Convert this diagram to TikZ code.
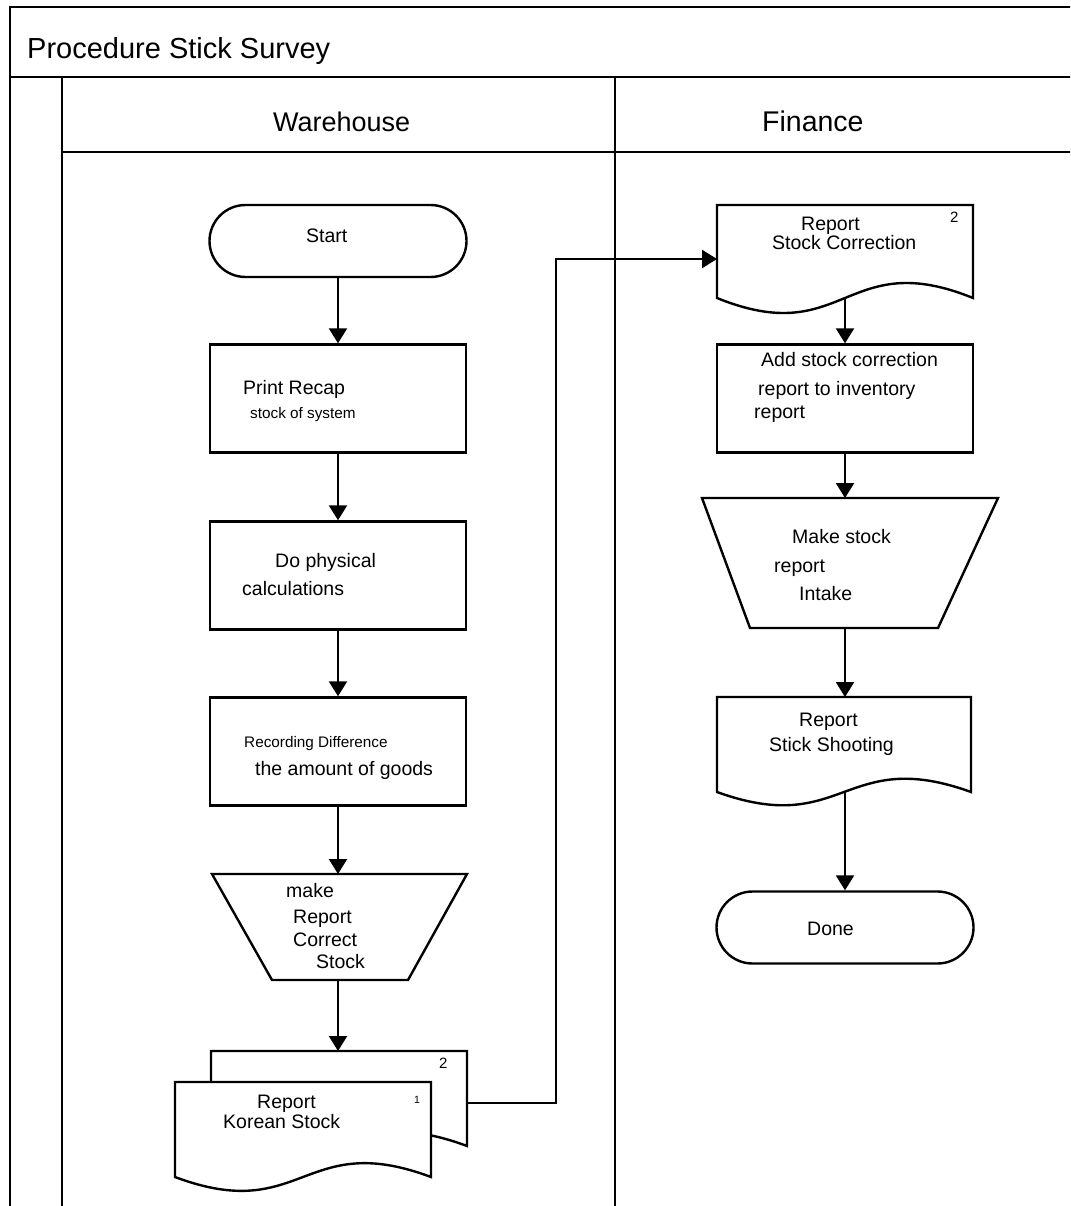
\documentclass[tikz,border=0pt]{standalone}
\usepackage{fontspec}
\setmainfont{Liberation Sans}
\usetikzlibrary{arrows.meta}

\begin{document}
\begin{tikzpicture}[x=1pt,y=-1pt,
  shapeline/.style={draw=black, line width=2.4pt, fill=white},
  laneline/.style={draw=black, line width=2.4pt},
  flow/.style={draw=black, line width=2.4pt, -{Triangle[length=15pt,width=18pt]}},
  procbox/.style={shapeline, minimum width=256pt, minimum height=108pt, inner sep=0pt},
  terminal/.style={shapeline, rounded corners=36pt, minimum width=257pt, minimum height=72pt, inner sep=0pt},
  txt/.style={anchor=base west, inner sep=0pt, font=\fontsize{19.5}{23}\selectfont},
  smalltxt/.style={anchor=base west, inner sep=0pt, font=\fontsize{15.3}{18}\selectfont},
  numtxt/.style={anchor=base west, inner sep=0pt, font=\fontsize{15}{17}\selectfont},
  tinytxt/.style={anchor=base west, inner sep=0pt, font=\fontsize{10.5}{12}\selectfont}
]
\useasboundingbox (0,0) rectangle (1070,1206);
\clip (0,0) rectangle (1070,1206);
\fill[white] (0,0) rectangle (1070,1206);

% pool frame and lanes
\draw[laneline] (10,1215) -- (10,7) -- (1080,7);
\draw[laneline] (10,77) -- (1080,77);
\draw[laneline] (62,77) -- (62,1215);
\draw[laneline] (615,77) -- (615,1215);
\draw[laneline] (62,152) -- (1080,152);

\node[anchor=base west, inner sep=0pt, font=\fontsize{29}{33}\selectfont] (title) at (27,59) {Procedure Stick Survey};
\node[anchor=base west, inner sep=0pt, font=\fontsize{27}{31}\selectfont] (lanewh) at (273,132) {Warehouse};
\node[anchor=base west, inner sep=0pt, font=\fontsize{28.5}{32}\selectfont] (lanefin) at (762,132) {Finance};

% ---------------- Warehouse lane ----------------
\node[terminal] (start) at (338,241) {};
\node[txt] (tstart) at (306,243) {Start};

\node[procbox] (recap) at (338,398.5) {};
\node[txt] (trecap1) at (243,394) {Print Recap};
\node[smalltxt] (trecap2) at (250,418) {stock of system};

\node[procbox] (calc) at (338,575.5) {};
\node[txt] (tcalc1) at (275,567) {Do physical};
\node[txt] (tcalc2) at (242,595) {calculations};

\node[procbox] (diff) at (338,751.5) {};
\node[smalltxt] (tdiff1) at (244,747) {Recording Difference};
\node[txt] (tdiff2) at (255,775) {the amount of goods};

% manual operation: make report
\draw[shapeline] (212,874) -- (467,874) -- (408,980) -- (272,980) -- cycle;
\coordinate (mk-top) at (338,874);
\coordinate (mk-bot) at (338,980);
\node[txt] (tmk1) at (286,897) {make};
\node[txt] (tmk2) at (293,923) {Report};
\node[txt] (tmk3) at (293,946) {Correct};
\node[txt] (tmk4) at (316,968) {Stock};

% two-copy document
\draw[shapeline] (211,1051) -- (467,1051) -- (467,1146)
  .. controls (339,1098) and (339,1194) .. (211,1146) -- cycle;
\draw[shapeline] (175,1082) -- (431,1082) -- (431,1177)
  .. controls (303,1129) and (303,1225) .. (175,1177) -- cycle;
\coordinate (ks-top) at (338,1051);
\coordinate (ks-out) at (467,1103);
\node[numtxt] (tks2) at (439,1068) {2};
\node[tinytxt] (tks1) at (414,1103) {1};
\node[txt] (tks-a) at (257,1108) {Report};
\node[txt] (tks-b) at (223,1128) {Korean Stock};

% ---------------- Finance lane ----------------
\draw[shapeline] (717,205) -- (973,205) -- (973,298)
  .. controls (845,246) and (845,350) .. (717,298) -- cycle;
\coordinate (sc-in) at (717,259);
\coordinate (sc-bot) at (845,298);
\node[txt] (tsc1) at (801,231) {Report};
\node[txt] (tsc2) at (772,250) {Stock Correction};
\node[numtxt] (tsc3) at (950,223) {2};

\node[procbox] (add) at (845,398.5) {};
\node[txt] (tadd1) at (761,366) {Add stock correction};
\node[txt] (tadd2) at (758,395) {report to inventory};
\node[txt] (tadd3) at (754,418) {report};

\draw[shapeline] (702,498) -- (998,498) -- (938,628) -- (750,628) -- cycle;
\coordinate (in-top) at (845,498);
\coordinate (in-bot) at (845,628);
\node[txt] (tin1) at (792,543) {Make stock};
\node[txt] (tin2) at (774,572) {report};
\node[txt] (tin3) at (799,600) {Intake};

\draw[shapeline] (717,697) -- (971,697) -- (971,792)
  .. controls (844,746) and (844,838) .. (717,792) -- cycle;
\coordinate (ss-top) at (845,697);
\coordinate (ss-bot) at (845,792);
\node[txt] (tss1) at (799,726) {Report};
\node[txt] (tss2) at (769,751) {Stick Shooting};

\node[terminal] (done) at (845,927.5) {};
\node[txt] (tdone) at (807,935) {Done};

% ---------------- connectors ----------------
\draw[flow] (start.south) -- (recap.north);
\draw[flow] (recap.south) -- (calc.north);
\draw[flow] (calc.south) -- (diff.north);
\draw[flow] (diff.south) -- (mk-top);
\draw[flow] (mk-bot) -- (ks-top);
\draw[flow] (ks-out) -- ++(89,0) |- (sc-in);
\draw[flow] (sc-bot) -- (add.north);
\draw[flow] (add.south) -- (in-top);
\draw[flow] (in-bot) -- (ss-top);
\draw[flow] (ss-bot) -- (done.north);
\end{tikzpicture}
\end{document}
